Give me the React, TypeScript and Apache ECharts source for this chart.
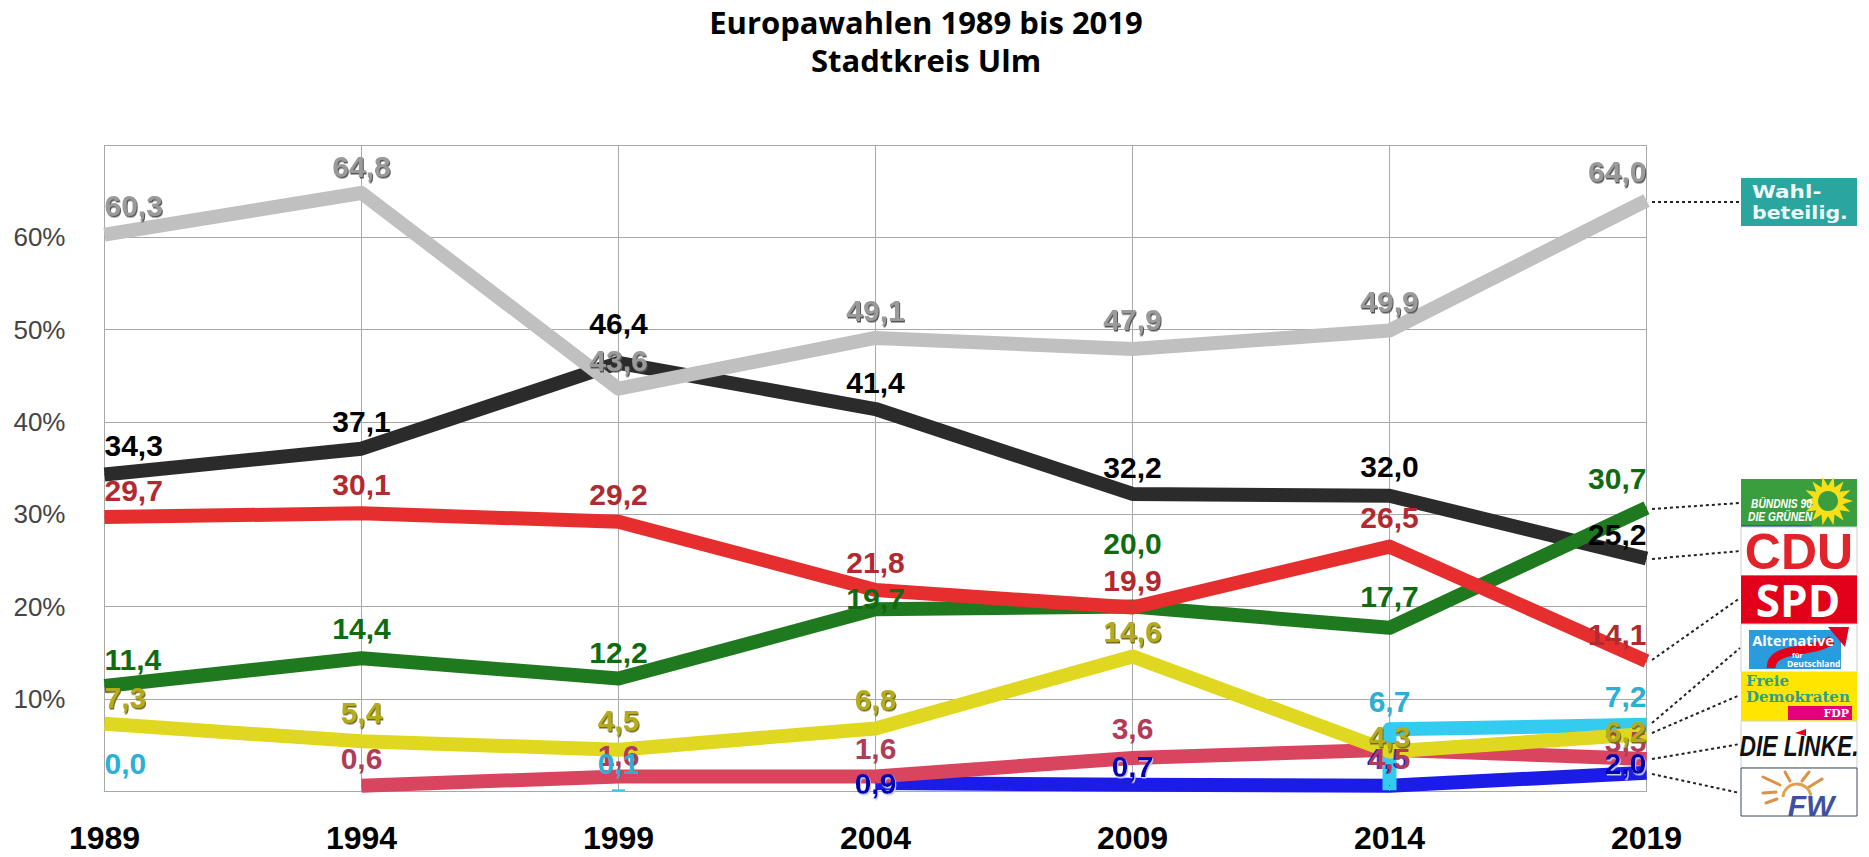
import React, { useEffect, useRef } from "react";
import * as echarts from "echarts";

const years = ["1989", "1994", "1999", "2004", "2009", "2014", "2019"];
const yTickValues = [10, 20, 30, 40, 50, 60];

const turnout = [60.3, 64.8, 43.6, 49.1, 47.9, 49.9, 64.0];
const cdu = [34.3, 37.1, 46.4, 41.4, 32.2, 32.0, 25.2];
const spd = [29.7, 30.1, 29.2, 21.8, 19.9, 26.5, 14.1];
const gruene = [11.4, 14.4, 12.2, 19.7, 20.0, 17.7, 30.7];
const fdp = [7.3, 5.4, 4.5, 6.8, 14.6, 4.3, 6.2];
const linke = [null, 0.6, 1.6, 1.6, 3.6, 4.5, 3.5];
const fw = [null, null, null, 0.9, 0.7, 0.6, 2.0];
// AfD: two isolated early values, then a riser at 2014 and the segment to 2019
const afdEarlyYearIndex = [0, 1, 2];
const afdEarlyValues = [0.0, null, 0.1];
const afdLateYearIndex = [5, 5, 6];
const afdLateValues = [0.1, 6.7, 7.2];

const nudgeTurnout = [-29, -27, -28, -27, -30, -29, -29];
const nudgeCdu = [-29, -27, -39, -27, -26, -29, -24];
const nudgeSpd = [-27, -29, -27, -27, -27, -29, -27];
const nudgeGruene = [-26, -30, -26, -11, -63, -31, -29];
const nudgeFdp = [-26, -29, -29, -29, -25, -15, -2];
const nudgeLinke = [0, -27, -21, -28, -29, 9, -17];
const nudgeFw = [0, 0, 0, 1, -18, -27, -9];
const nudgeAfdEarly = [-28, 0, -27];
const nudgeAfdLate = [0, -28, -28];
const FW_HIDDEN_LABEL_INDEX = 5; // in the reference this label is buried under "4,5"
const LINKE_OVER_FW_INDEX = 5;

const FONT = "'Liberation Sans', Arial, sans-serif";
const comma = (v: number) => v.toFixed(1).replace(".", ",");
const AFD_COLOR = "#33ccf0";
const AFD_LABEL = "#2bb0d4";

function labelFor(i: number, last: number, dy: number) {
  return {
    position: "inside",
    align: i === 0 ? "left" : i === last ? "right" : "center",
    verticalAlign: "middle",
    offset: [0, dy],
  };
}

function makeSeries(name: string, values: (number | null)[], nudges: number[], color: string, labelColor: string, shadow?: string) {
  return {
    name,
    type: "line",
    clip: false,
    symbol: "circle",
    symbolSize: 1,
    showSymbol: true,
    connectNulls: false,
    itemStyle: { color },
    lineStyle: { color, width: 14, cap: "butt", join: "round" },
    label: {
      show: true,
      color: labelColor,
      fontFamily: FONT,
      fontWeight: "bold",
      fontSize: 30,
      textBorderWidth: 0,
      textShadowColor: shadow || "transparent",
      textShadowOffsetX: shadow ? 1 : 0,
      textShadowOffsetY: shadow ? 1.5 : 0,
      textShadowBlur: shadow ? 1 : 0,
      formatter: (p: any) => comma(Array.isArray(p.value) ? p.value[1] : p.value),
    },
    data: values.map((v, i) => ({ value: v, label: labelFor(i, values.length - 1, nudges[i]) })),
  };
}

function fwSeries() {
  const s: any = makeSeries("FW", fw, nudgeFw, "#1c1ce8", "#0000b4", "#c8c8f0");
  s.data[FW_HIDDEN_LABEL_INDEX].label.show = false;
  return s;
}

function linkeSeries() {
  const s: any = makeSeries("Linke", linke, nudgeLinke, "#d9445f", "#b03c58");
  Object.assign(s.data[LINKE_OVER_FW_INDEX].label, {
    textShadowColor: "#0000b4",
    textShadowOffsetX: -1.5,
    textShadowOffsetY: 0,
    textShadowBlur: 1,
  });
  return s;
}

function afdEarlySeries() {
  const s: any = makeSeries("AfD früh", afdEarlyValues, nudgeAfdEarly, AFD_COLOR, AFD_LABEL);
  s.data = afdEarlyValues.map((v, i) => ({
    value: [afdEarlyYearIndex[i], v],
    symbol: i === 2 ? "rect" : "circle",
    symbolSize: i === 2 ? [13, 2] : 1,
    label: { ...labelFor(afdEarlyYearIndex[i], 6, nudgeAfdEarly[i]), show: v !== null },
  }));
  return s;
}

function afdLateSeries() {
  const s: any = makeSeries("AfD", afdLateValues, nudgeAfdLate, AFD_COLOR, AFD_LABEL);
  s.data = afdLateValues.map((v, i) => ({
    value: [afdLateYearIndex[i], v],
    label: { ...labelFor(afdLateYearIndex[i], 6, nudgeAfdLate[i]), show: i > 0 },
  }));
  return s;
}

function starPoints(cx: number, cy: number, r1: number, r2: number, n: number) {
  const pts: number[][] = [];
  for (let i = 0; i < n * 2; i++) {
    const r = i % 2 ? r2 : r1;
    const a = (Math.PI * i) / n;
    pts.push([cx + r * Math.cos(a), cy + r * Math.sin(a)]);
  }
  return pts;
}

const rect = (x: number, y: number, width: number, height: number, fill: string, stroke?: string) => ({
  type: "rect",
  shape: { x, y, width, height },
  style: { fill, stroke: stroke || undefined, lineWidth: stroke ? 1 : 0 },
});
const txt = (x: number, y: number, text: string, font: string, fill: string, align = "center", scaleX = 1) => ({
  type: "text",
  x,
  y,
  scaleX,
  style: { text, font, fill, textAlign: align, textVerticalAlign: "middle" },
});
const leader = (x1: number, y1: number, x2: number, y2: number) => ({
  type: "line",
  shape: { x1, y1, x2, y2 },
  style: { stroke: "#222", lineWidth: 2, lineDash: [3, 3] },
});
const ray = (x1: number, y1: number, x2: number, y2: number) => ({
  type: "line",
  shape: { x1, y1, x2, y2 },
  style: { stroke: "#d9924a", lineWidth: 3, lineCap: "round" },
});

function logos() {
  const L = 1741;
  const W = 116;
  return [
    leader(1652, 202, 1740, 202),
    leader(1652, 509, 1740, 503),
    leader(1652, 559, 1740, 551),
    leader(1652, 660, 1740, 598),
    leader(1652, 723, 1740, 648),
    leader(1652, 733, 1740, 695),
    leader(1652, 759, 1740, 744),
    leader(1652, 774, 1740, 793),

    rect(L, 178, W, 48, "#2aa59f"),
    txt(1752, 192, "Wahl-", "bold 18px 'DejaVu Sans'", "#eefafa", "left", 1.2),
    txt(1752, 213, "beteilig.", "bold 18px 'DejaVu Sans'", "#eefafa", "left", 1.14),

    rect(L, 479, W, 48, "#3a9e3e"),
    rect(L, 525, 71, 2, "#2a5fa8"),
    { type: "polygon", shape: { points: starPoints(1828, 501, 25, 15, 14) }, style: { fill: "#f7e017" } },
    { type: "circle", shape: { cx: 1828, cy: 501, r: 10 }, style: { fill: "#3a9e3e" } },
    txt(1751, 504, "BÜNDNIS 90", "italic bold 12.5px " + FONT, "#fff", "left", 0.82),
    txt(1748, 517, "DIE GRÜNEN", "italic bold 12.5px " + FONT, "#fff", "left", 0.82),

    rect(L, 527, W, 48.5, "#ffffff", "#cfcfcf"),
    txt(L + W / 2, 552, "CDU", "bold 50px " + FONT, "#e3232a"),

    rect(L, 575.5, W, 48.5, "#e2001a"),
    txt(L + W / 2 - 1, 600, "SPD", "bold 44px 'Open Sans'", "#ffffff"),

    rect(L, 624, W, 48, "#ffffff", "#cfcfcf"),
    rect(1749, 630, 92, 39, "#2a9bdc"),
    {
      type: "bezierCurve",
      shape: { x1: 1771, y1: 668, x2: 1832, y2: 640, cpx1: 1772, cpy1: 645, cpx2: 1810, cpy2: 655 },
      style: { stroke: "#e3001b", lineWidth: 9, fill: "none" },
    },
    { type: "polygon", shape: { points: [[1828, 627], [1849, 627], [1845, 647]] }, style: { fill: "#e3001b" } },
    txt(1793, 640, "Alternative", "bold 14.5px 'Open Sans'", "#ffffff"),
    txt(1792, 655, "für", "bold 7px 'Open Sans'", "#ffffff", "left"),
    txt(1787, 663, "Deutschland", "bold 8.5px 'Open Sans'", "#ffffff", "left"),

    rect(L, 672, W, 49, "#ffe600"),
    txt(1746, 681, "Freie", "bold 15px 'DejaVu Serif'", "#2f9e8b", "left"),
    txt(1746, 697, "Demokraten", "bold 15px 'DejaVu Serif'", "#2f9e8b", "left"),
    rect(1788, 706, 64, 14, "#e5007d"),
    txt(1849, 713.5, "FDP", "bold 11px 'DejaVu Serif'", "#ffffff", "right"),

    rect(L, 721, W, 47, "#ffffff", "#cfcfcf"),
    txt(1799, 746, "DIE LINKE.", "italic bold 30px " + FONT, "#111111", "center", 0.76),
    { type: "polygon", shape: { points: [[1795, 733], [1806, 729], [1806, 736]] }, style: { fill: "#e3001b" } },

    rect(L, 768, W, 48, "#ffffff", "#3d4660"),
    ray(1763, 793, 1776, 792),
    ray(1766, 803, 1777, 799),
    ray(1763, 777, 1780, 785),
    ray(1785, 772, 1790, 781),
    ray(1809, 772, 1802, 781),
    ray(1822, 779, 1809, 787),
    { type: "arc", shape: { cx: 1797, cy: 798, r: 14, startAngle: Math.PI * 1.02, endAngle: Math.PI * 1.95 }, style: { stroke: "#e0a050", lineWidth: 3, fill: "none" } },
    txt(1811, 805, "FW", "italic bold 30px " + FONT, "#3d51a0"),
  ];
}

export default function App() {
  const ref = useRef<HTMLDivElement>(null);
  useEffect(() => {
    const chart = echarts.init(ref.current!, null, { renderer: "svg" });
    chart.setOption({
      animation: false,
      backgroundColor: "#ffffff",
      title: {
        text: "Europawahlen 1989 bis 2019\nStadtkreis Ulm",
        left: 926,
        top: 3,
        textAlign: "center",
        padding: 0,
        textStyle: { fontFamily: "'Open Sans', sans-serif", fontWeight: "bold", fontSize: 31, lineHeight: 38, color: "#000" },
      },
      grid: { left: 104.5, right: 222.5, top: 145, height: 646.2, containLabel: false },
      xAxis: {
        type: "category",
        data: years,
        boundaryGap: false,
        offset: 3,
        axisLine: { show: true, lineStyle: { color: "#a8a8a8", width: 1 } },
        axisTick: { show: true, inside: true, length: 3, lineStyle: { color: "#a8a8a8" } },
        axisLabel: { color: "#000", fontFamily: FONT, fontWeight: "bold", fontSize: 32, margin: 28, showMinLabel: true, showMaxLabel: true, interval: 0 },
        splitLine: { show: true, lineStyle: { color: "#a8a8a8", width: 1 } },
      },
      yAxis: {
        type: "value",
        min: 0,
        max: 70,
        interval: 10,
        axisLine: { show: false },
        axisTick: { show: false },
        axisLabel: {
          color: "#444",
          fontFamily: FONT,
          fontSize: 26,
          margin: 39,
          formatter: (v: number) => (yTickValues.includes(v) ? v + "%" : ""),
        },
        splitLine: { show: true, showMinLine: false, lineStyle: { color: "#a8a8a8", width: 1 } },
      },
      series: [
        makeSeries("CDU", cdu, nudgeCdu, "#2b2b2b", "#000000"),
        makeSeries("Grüne", gruene, nudgeGruene, "#1f7a1f", "#0f6b0f"),
        makeSeries("SPD", spd, nudgeSpd, "#e62e2e", "#b02a2f"),
        fwSeries(),
        afdLateSeries(),
        linkeSeries(),
        makeSeries("FDP", fdp, nudgeFdp, "#e0d820", "#b4ac1e", "#6f6a20"),
        afdEarlySeries(),
        makeSeries("Wahlbeteiligung", turnout, nudgeTurnout, "#c0c0c0", "#9a9a9a", "#555555"),
      ],
      graphic: { elements: logos() },
    });
    return () => chart.dispose();
  }, []);
  return <div ref={ref} style={{ position: "fixed", left: 0, top: 0, width: 1869, height: 857 }} />;
}
